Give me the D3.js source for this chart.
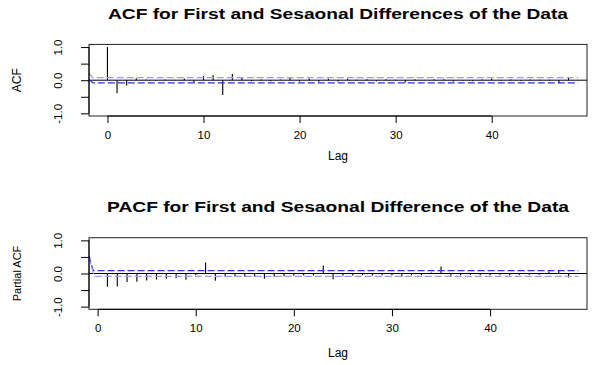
<!DOCTYPE html>
<html>
<head>
<meta charset="utf-8">
<script src="https://cdn.jsdelivr.net/npm/d3@7"></script>
<style>
  body { margin: 0; background: #fff; }
  text { font-family: "Liberation Sans", Arial, sans-serif; }
</style>
</head>
<body>
<div id="chart"></div>
<script>
// ACF values, lags 0..48
var acfLags = [0,1,2,3,4,5,6,7,8,9,10,11,12,13,14,15,16,17,18,19,20,21,22,23,24,
  25,26,27,28,29,30,31,32,33,34,35,36,37,38,39,40,41,42,43,44,45,46,47,48];
var acfValues = [1.0,-0.39,-0.16,0.06,0.02,-0.02,0.02,0.01,0.05,-0.06,0.13,0.16,-0.45,0.19,0.08,
  -0.03,0.02,-0.03,0.02,0.07,-0.04,0.05,-0.05,0.04,-0.04,0.04,0.01,0.03,-0.03,0.03,
  0.01,-0.07,0.03,0.01,0.03,0.03,-0.04,-0.02,-0.03,0.02,0.05,-0.02,0.02,-0.02,0.02,
  0.01,0.01,-0.09,0.08];

// PACF values, lags 1..48
var pacfLags = [1,2,3,4,5,6,7,8,9,10,11,12,13,14,15,16,17,18,19,20,21,22,23,24,
  25,26,27,28,29,30,31,32,33,34,35,36,37,38,39,40,41,42,43,44,45,46,47,48];
var pacfValues = [-0.40,-0.39,-0.26,-0.25,-0.21,-0.18,-0.16,-0.14,-0.19,-0.05,0.33,-0.22,
  -0.10,-0.09,-0.10,-0.09,-0.16,-0.10,-0.08,-0.07,-0.06,-0.06,0.24,-0.17,
  -0.07,-0.06,-0.05,-0.06,-0.05,-0.05,-0.10,-0.05,-0.05,0.03,0.21,-0.07,
  -0.05,-0.04,-0.05,-0.05,-0.04,-0.05,-0.04,-0.04,-0.04,0.07,0.10,-0.12];

// confidence bound lines (lag, value)
var acfCiUpper = [[-1.92, 0.22], [-1.55, 0.08], [49, 0.08]];
var acfCiLower = [[-1.92, 0.02], [-1.5, -0.08], [49, -0.08]];
var pacfCiUpper = [[-0.88, 0.54], [-0.45, 0.085], [49, 0.085]];
var pacfCiLower = [[-0.88, 0.48], [-0.35, -0.085], [49, -0.085]];

var xTicks = [0, 10, 20, 30, 40];
var yTicks = [-1, -0.5, 0, 0.5, 1];
var yTickLabels = {"-1": "-1.0", "0": "0.0", "1": "1.0"};

var svg = d3.select("#chart")
  .append("svg")
  .attr("width", 600)
  .attr("height", 365);

svg.append("rect").attr("width", 600).attr("height", 365).attr("fill", "#fff");

function drawPanel(opt) {
  var x = d3.scaleLinear().domain(opt.xDomain).range([89, 587]);
  var y = d3.scaleLinear().domain([-1.08, 1.08]).range([opt.bottom, opt.top]);
  var g = svg.append("g");

  var clipId = "clip" + Math.round(opt.top);
  g.append("clipPath").attr("id", clipId)
    .append("rect")
    .attr("x", 89).attr("y", opt.top)
    .attr("width", 498).attr("height", opt.bottom - opt.top);

  // title (the reference is stretched wide)
  g.append("text")
    .attr("x", 338).attr("y", opt.titleY)
    .attr("text-anchor", "middle")
    .attr("font-size", "14px")
    .attr("font-weight", "bold")
    .attr("textLength", opt.titleWidth)
    .attr("lengthAdjust", "spacingAndGlyphs")
    .text(opt.title);

  // zero line
  g.append("line")
    .attr("x1", 89).attr("x2", 587)
    .attr("y1", y(0)).attr("y2", y(0))
    .attr("stroke", "#000").attr("stroke-width", 1);

  // bars
  g.selectAll(".bar")
    .data(opt.lags)
    .enter()
    .append("line")
    .attr("x1", d => x(d)).attr("x2", d => x(d))
    .attr("y1", y(0))
    .attr("y2", (d, i) => y(opt.values[i]))
    .attr("stroke", "#000").attr("stroke-width", 1.1);

  // confidence bounds
  var line = d3.line().x(d => x(d[0])).y(d => y(d[1]));
  g.append("path").datum(opt.ciUpper)
    .attr("d", line)
    .attr("clip-path", "url(#" + clipId + ")")
    .attr("fill", "none").attr("stroke", opt.upperColor)
    .attr("stroke-width", 1.2).attr("stroke-dasharray", "7,3");
  g.append("path").datum(opt.ciLower)
    .attr("d", line)
    .attr("clip-path", "url(#" + clipId + ")")
    .attr("fill", "none").attr("stroke", opt.lowerColor)
    .attr("stroke-width", 1.2).attr("stroke-dasharray", "7,3");

  // box
  g.append("rect")
    .attr("x", 89).attr("y", opt.top)
    .attr("width", 498).attr("height", opt.bottom - opt.top)
    .attr("fill", "none").attr("stroke", "#222").attr("stroke-width", 1);

  // x axis
  var xAxis = d3.axisBottom(x).tickValues(xTicks).tickSize(7).tickPadding(8)
    .tickFormat(d3.format("d"));
  var xg = g.append("g")
    .attr("transform", `translate(0, ${opt.bottom})`)
    .call(xAxis);
  xg.select(".domain").attr("d", `M${x(0)},0H${x(40)}`).attr("stroke", "#000");
  xg.selectAll("text").attr("font-size", "11.5px").attr("fill", "#000")
    .attr("font-family", "Liberation Sans, Arial, sans-serif");

  // y axis
  var yAxis = d3.axisLeft(y).tickValues(yTicks).tickSize(8).tickFormat(d => yTickLabels[d] || "");
  var yg = g.append("g")
    .attr("transform", "translate(89, 0)")
    .call(yAxis);
  yg.select(".domain").attr("d", `M0,${y(-1)}V${y(1)}`).attr("stroke", "#000");
  yg.selectAll("text")
    .attr("font-size", "11.5px").attr("fill", "#000")
    .attr("font-family", "Liberation Sans, Arial, sans-serif")
    .attr("x", null).attr("dy", null)
    .attr("text-anchor", "middle")
    .attr("transform", "translate(-31, 0) rotate(-90)")
    .attr("y", 4);

  // axis titles
  g.append("text")
    .attr("x", 338).attr("y", opt.lagY)
    .attr("text-anchor", "middle")
    .attr("font-size", "12px")
    .text("Lag");

  g.append("text")
    .attr("transform", `translate(21, ${(opt.top + opt.bottom) / 2}) rotate(-90)`)
    .attr("text-anchor", "middle")
    .attr("font-size", opt.yLabelSize)
    .text(opt.yLabel);
}

drawPanel({
  title: "ACF for First and Sesaonal Differences of the Data",
  titleY: 19, titleWidth: 460,
  yLabel: "ACF", yLabelSize: "12px",
  top: 44.4, bottom: 116, lagY: 160,
  xDomain: [-1.92, 49.92],
  lags: acfLags, values: acfValues,
  ciUpper: acfCiUpper, ciLower: acfCiLower,
  upperColor: "#9a9aff", lowerColor: "#2f2fee"
});

drawPanel({
  title: "PACF for First and Sesaonal Difference of the Data",
  titleY: 212, titleWidth: 462,
  yLabel: "Partial ACF", yLabelSize: "11px",
  top: 237.7, bottom: 309.3, lagY: 357,
  xDomain: [-0.88, 49.88],
  lags: pacfLags, values: pacfValues,
  ciUpper: pacfCiUpper, ciLower: pacfCiLower,
  upperColor: "#2f2fee", lowerColor: "#9a9aff"
});
</script>
</body>
</html>
